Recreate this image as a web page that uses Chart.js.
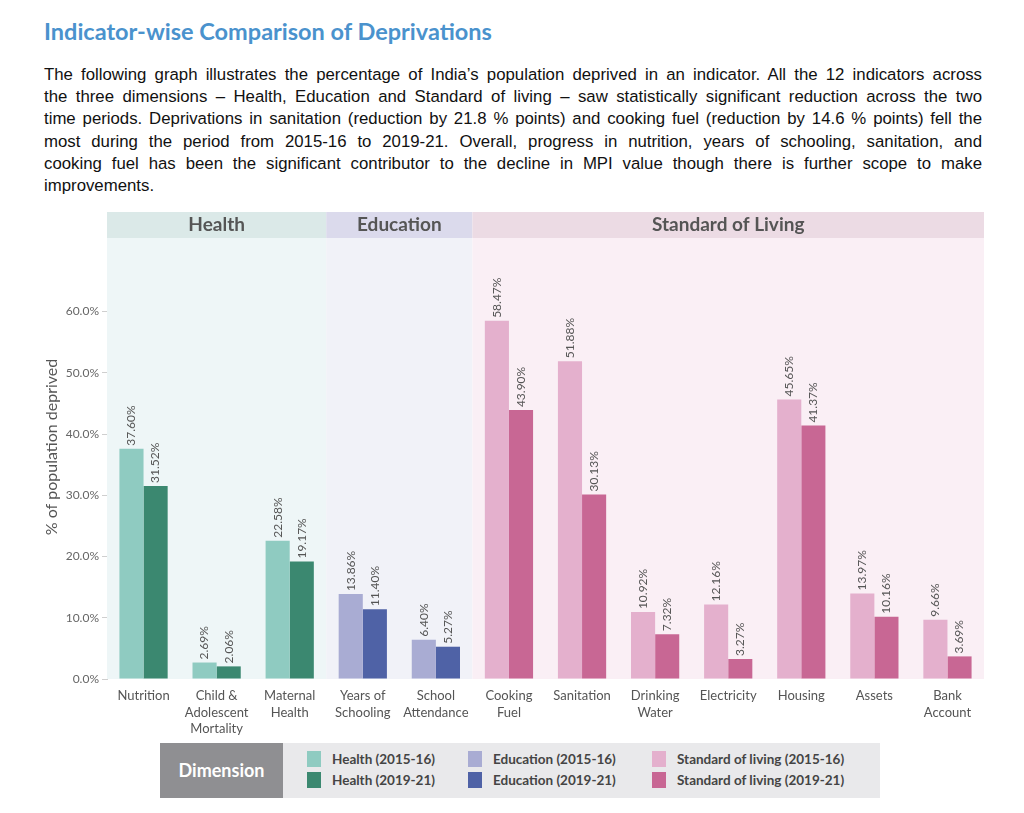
<!DOCTYPE html>
<html><head><meta charset="utf-8">
<script src="https://cdn.jsdelivr.net/npm/chart.js@4"></script>
<style>
body{margin:0;background:#fff;width:1024px;height:813px;position:relative;overflow:hidden;font-family:"Liberation Sans",Arial,sans-serif;}
#title{position:absolute;left:44px;top:17px;font-family:Lato,sans-serif;font-weight:700;font-size:23.5px;color:#4a92cd;}
#para{position:absolute;left:44px;top:64px;width:938px;font-size:16.8px;line-height:22.2px;color:#111;}
.ln{text-align:justify;text-align-last:justify;}
.last{text-align:left;text-align-last:left;}
#wrap{position:absolute;left:0;top:200px;width:1024px;height:545px;}
#legend{position:absolute;left:160px;top:743px;width:720px;height:55px;background:#e9e9eb;font-family:Lato,sans-serif;}
#dim{position:absolute;left:0;top:0;width:123px;height:55px;background:#8f8f92;color:#fff;font-weight:700;font-size:18px;line-height:55px;text-align:center;}
.it{position:absolute;font-size:13.5px;font-weight:700;color:#444;line-height:16px;}
.sw{position:absolute;width:14px;height:16px;}
</style></head>
<body>
<div id="title">Indicator-wise Comparison of Deprivations</div>
<div id="para">
<div class="ln">The following graph illustrates the percentage of India’s population deprived in an indicator. All the 12 indicators across</div>
<div class="ln">the three dimensions – Health, Education and Standard of living – saw statistically significant reduction across the two</div>
<div class="ln">time periods. Deprivations in sanitation (reduction by 21.8 % points) and cooking fuel (reduction by 14.6 % points) fell the</div>
<div class="ln">most during the period from 2015-16 to 2019-21. Overall, progress in nutrition, years of schooling, sanitation, and</div>
<div class="ln">cooking fuel has been the significant contributor to the decline in MPI value though there is further scope to make</div>
<div class="ln last">improvements.</div>
</div>
<div id="wrap"><canvas id="c" width="1024" height="545"></canvas></div>
<div id="legend"><div id="dim">Dimension</div></div>
<script>
// ---- data ----
const categories = [["Nutrition"],["Child &","Adolescent","Mortality"],["Maternal","Health"],["Years of","Schooling"],["School","Attendance"],["Cooking","Fuel"],["Sanitation"],["Drinking","Water"],["Electricity"],["Housing"],["Assets"],["Bank","Account"]];
const dimensionOf = [0,0,0,1,1,2,2,2,2,2,2,2];
const dimensions = ["Health","Education","Standard of Living"];
const values2015 = [37.60,2.69,22.58,13.86,6.40,58.47,51.88,10.92,12.16,45.65,13.97,9.66];
const values2019 = [31.52,2.06,19.17,11.40,5.27,43.90,30.13,7.32,3.27,41.37,10.16,3.69];
const yTicks = [0,10,20,30,40,50,60];
const legendLabels = [["Health (2015-16)","Health (2019-21)"],["Education (2015-16)","Education (2019-21)"],["Standard of living (2015-16)","Standard of living (2019-21)"]];

// ---- styles ----
const lightCols = ["#8fcbc1","#a9acd3","#e4b0cd"];
const darkCols  = ["#3b8870","#4f62a6","#c86794"];
const bandBody  = ["#eef6f7","#f1f2f8","#faeff5"];
const bandHead  = ["#dbe9e8","#dbdaec","#ecdbe4"];

// legend
const leg = document.getElementById('legend');
const colX = [147, 308, 492];
legendLabels.forEach((pair,d)=>{
  pair.forEach((t,r)=>{
    const sw = document.createElement('div'); sw.className='sw';
    sw.style.left=colX[d]+'px'; sw.style.top=(8+r*21)+'px';
    sw.style.background = r===0?lightCols[d]:darkCols[d];
    leg.appendChild(sw);
    const tx = document.createElement('div'); tx.className='it';
    tx.style.left=(colX[d]+25)+'px'; tx.style.top=(8+r*21)+'px'; tx.textContent=t;
    leg.appendChild(tx);
  });
});

const bandPlugin = {
  id:'bands',
  beforeDatasetsDraw(chart){
    const {ctx, chartArea:a, scales:{x}} = chart;
    const w = (x.right - x.left)/categories.length;
    dimensions.forEach((name,d)=>{
      const idx = dimensionOf.map((v,i)=>v===d?i:-1).filter(i=>i>=0);
      const x0 = x.left + idx[0]*w, x1 = x.left + (idx[idx.length-1]+1)*w;
      ctx.save();
      ctx.fillStyle = bandBody[d]; ctx.fillRect(x0, a.top, x1-x0, a.bottom-a.top);
      ctx.fillStyle = bandHead[d]; ctx.fillRect(x0, a.top-26, x1-x0, 26);
      ctx.fillStyle = '#555'; ctx.font = 'bold 19px Lato'; ctx.textAlign='center'; ctx.textBaseline='middle';
      ctx.fillText(name, (x0+x1)/2, a.top-13);
      ctx.restore();
    });
  },
  afterDatasetsDraw(chart){
    const ctx = chart.ctx;
    chart.data.datasets.forEach((ds,di)=>{
      chart.getDatasetMeta(di).data.forEach((el,i)=>{
        ctx.save();
        ctx.translate(el.x, el.y-3);
        ctx.rotate(-Math.PI/2);
        ctx.font='12px Lato'; ctx.fillStyle='#555'; ctx.textAlign='left'; ctx.textBaseline='middle';
        ctx.fillText(ds.data[i].toFixed(2)+'%',0,0);
        ctx.restore();
      });
    });
    ctx.save();
    ctx.translate(52, 247);
    ctx.rotate(-Math.PI/2);
    ctx.font='16px Lato'; ctx.fillStyle='#555'; ctx.textAlign='center'; ctx.textBaseline='middle';
    ctx.fillText('% of population deprived',0,0);
    ctx.restore();
  }
};

new Chart(document.getElementById('c'), {
  type:'bar',
  data:{
    labels: categories,
    datasets:[
      {label:'2015-16', data: values2015, backgroundColor: dimensionOf.map(d=>lightCols[d]), barPercentage:1, categoryPercentage:0.66},
      {label:'2019-21', data: values2019, backgroundColor: dimensionOf.map(d=>darkCols[d]), barPercentage:1, categoryPercentage:0.66}
    ]
  },
  options:{
    responsive:false, animation:false,
    layout:{padding:{top:38,right:40,left:0,bottom:0}},
    plugins:{legend:{display:false}, tooltip:{enabled:false}},
    scales:{
      x:{
        grid:{display:false}, border:{display:false},
        ticks:{font:{family:'Lato',size:13,lineHeight:1.25}, color:'#555', maxRotation:0, autoSkip:false, padding:1},
        afterFit(s){ s.height = 66; }
      },
      y:{
        min:0, max:72,
        grid:{display:true, drawOnChartArea:false, drawTicks:true, tickLength:5, color:'#cfcfcf'},
        border:{display:true, color:'#cfcfcf'},
        ticks:{font:{family:'Lato',size:12}, color:'#666', padding:3, callback:v=>v.toFixed(1)+'%'},
        afterBuildTicks(s){ s.ticks = yTicks.map(v=>({value:v})); },
        afterFit(s){ s.width = 107; }
      }
    }
  },
  plugins:[bandPlugin]
});
</script>
</body></html>
